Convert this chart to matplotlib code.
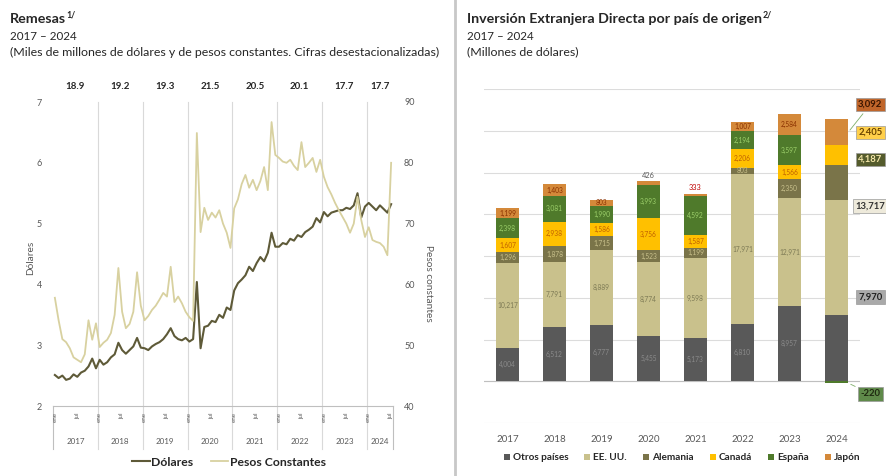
import matplotlib
matplotlib.use('Agg')
import matplotlib.pyplot as plt
from matplotlib.lines import Line2D
from matplotlib.patches import Patch
import numpy as np

plt.rcParams['font.family'] = ['Lato', 'DejaVu Sans']

# ---------------- data: Remesas ----------------
years = ['2017', '2018', '2019', '2020', '2021', '2022', '2023', '2024']
months_per_year = [12, 12, 12, 12, 12, 12, 12, 7]
exchange_rate = ['18.9', '19.2', '19.3', '21.5', '20.5', '20.1', '17.7', '17.7']

dolares = [
    2.51, 2.46, 2.50, 2.43, 2.45, 2.52, 2.48, 2.55, 2.58, 2.65, 2.78, 2.62,
    2.76, 2.68, 2.72, 2.80, 2.85, 3.04, 2.92, 2.86, 2.92, 2.98, 3.12, 2.96,
    2.95, 2.92, 2.98, 3.02, 3.05, 3.10, 3.18, 3.28, 3.15, 3.10, 3.08, 3.12,
    3.06, 3.10, 4.04, 2.95, 3.30, 3.32, 3.40, 3.38, 3.50, 3.45, 3.62, 3.58,
    3.90, 4.02, 4.08, 4.15, 4.29, 4.22, 4.35, 4.45, 4.38, 4.52, 4.85, 4.62,
    4.62, 4.68, 4.66, 4.75, 4.72, 4.81, 4.78, 4.86, 4.90, 4.95, 5.09, 5.02,
    5.19, 5.12, 5.18, 5.20, 5.22, 5.22, 5.26, 5.24, 5.30, 5.50, 5.10, 5.28,
    5.34, 5.28, 5.22, 5.30, 5.24, 5.18, 5.32,
]
pesos = [
    57.8, 54.1, 51.0, 50.5, 49.5, 48.0, 47.6, 47.2, 48.5, 54.1, 50.9, 53.6,
    49.7, 50.4, 50.9, 52.0, 55.0, 62.7, 55.5, 52.8, 53.5, 55.5, 62.0, 56.5,
    54.1, 54.8, 55.8, 56.5, 57.5, 58.6, 58.0, 62.9, 57.1, 58.0, 56.9, 55.5,
    54.6, 54.0, 84.9, 68.6, 72.6, 70.6, 71.8, 71.0, 72.2, 70.0, 68.5, 66.0,
    72.5, 74.0, 76.5, 78.0, 75.9, 77.2, 75.5, 77.0, 79.3, 75.5, 86.7, 81.3,
    80.8, 80.2, 80.0, 80.5, 79.5, 78.8, 83.4, 79.3, 80.0, 80.8, 78.5, 80.5,
    77.7, 76.0, 74.8, 73.4, 72.2, 71.1, 70.0, 68.5, 70.0, 74.4, 70.6, 67.8,
    69.4, 67.3, 67.0, 66.8, 66.2, 64.8, 80.0,
]

# ---------------- data: IED ----------------
ied_years = ['2017', '2018', '2019', '2020', '2021', '2022', '2023', '2024']
otros = [4004, 6512, 6777, 5455, 5173, 6810, 8957, 7970]
eeuu = [10217, 7791, 8889, 8774, 9598, 17971, 12971, 13717]
alemania = [1296, 1878, 1715, 1523, 1199, 803, 2350, 4187]
canada = [1607, 2938, 1586, 3756, 1587, 2206, 1566, 2405]
espana = [2398, 3081, 1990, 3993, 4592, 2194, 3597, -220]
japon = [1199, 1403, 803, 426, 333, 1007, 2584, 3092]
series_names = ['Otros países', 'EE. UU.', 'Alemania', 'Canadá', 'España', 'Japón']

W, H = 887, 476
fig = plt.figure(figsize=(W / 100, H / 100), dpi=100)
fig.patch.set_facecolor('white')


def fy(py):
    return 1 - py / H


TXT = '#262626'
GRAY = '#595959'

# ---------------- Titles ----------------
renderer = fig.canvas.get_renderer()


def title_with_sup(x, y, text, sup):
    t = fig.text(x / W, fy(y), text, fontsize=10.3, fontweight='bold', color=TXT, va='center')
    bb = t.get_window_extent(renderer=renderer)
    fig.text(bb.x1 / W + 0.5 / W, fy(y - 4), sup, fontsize=6.3, fontweight='bold', color=TXT, va='center')


title_with_sup(10, 19, 'Remesas', '1/')
fig.text(10 / W, fy(36), '2017 – 2024', fontsize=8.4, color=TXT, va='center')
fig.text(10 / W, fy(52), '(Miles de millones de dólares y de pesos constantes. Cifras desestacionalizadas)',
         fontsize=8.9, color=TXT, va='center')

title_with_sup(467, 19, 'Inversión Extranjera Directa por país de origen', '2/')
fig.text(467 / W, fy(36), '2017 – 2024', fontsize=8.4, color=TXT, va='center')
fig.text(467 / W, fy(52), '(Millones de dólares)', fontsize=8.9, color=TXT, va='center')

# separator
fig.add_artist(Line2D([455 / W, 455 / W], [0, 1], color='#c8c8c8', lw=2))

# ---------------- Left chart ----------------
ax = fig.add_axes([53 / W, 1 - 406 / H, 340 / W, 304 / H])
n = len(dolares)
x = np.arange(n)
ax.set_xlim(-0.5, n - 0.5)
ax.set_ylim(2, 7)
ax2 = ax.twinx()
ax2.set_ylim(40, 90)

ax.plot(x, dolares, color='#5e5a38', lw=1.5, zorder=3)
ax2.plot(x, pesos, color='#d8d1a0', lw=1.3, zorder=2)

for a in (ax, ax2):
    for s in a.spines.values():
        s.set_visible(False)
ax.spines['bottom'].set_visible(True)
ax.spines['bottom'].set_color('#bfbfbf')

ax.set_yticks([2, 3, 4, 5, 6, 7])
ax.set_yticklabels(['2', '3', '4', '5', '6', '7'])
ax.tick_params(axis='y', length=0, labelsize=6.5, labelcolor=GRAY, pad=8)
ax2.set_yticks([40, 50, 60, 70, 80, 90])
ax2.tick_params(axis='y', length=0, labelsize=6.5, labelcolor=GRAY, pad=8)
ax.set_xticks([])

xt = ax.get_xaxis_transform()
starts = np.concatenate([[0], np.cumsum(months_per_year)[:-1]])
ends = np.cumsum(months_per_year)
for k in range(len(years)):
    s, e = starts[k], ends[k]
    if k > 0:
        ax.plot([s - 0.5, s - 0.5], [-0.14, 1], transform=xt, color='#d9d9d9', lw=0.8, clip_on=False, zorder=1)
    ax.text(s, -0.02, 'ene', transform=xt, rotation=90, fontsize=4.5, color=GRAY, ha='center', va='top')
    if months_per_year[k] > 6:
        ax.text(s + 6, -0.02, 'jul', transform=xt, rotation=90, fontsize=4.5, color=GRAY, ha='center', va='top')
    ax.text((s + e - 1) / 2, -0.118, years[k], transform=xt, fontsize=5.8, color=GRAY, ha='center', va='center')
    ax.text((s + e - 1) / 2, 1.05, exchange_rate[k], transform=xt, fontsize=7, fontweight='bold',
            color=TXT, ha='center', va='center')
for xe in (-0.5, n - 0.5):
    ax.plot([xe, xe], [-0.14, 0], transform=xt, color='#bfbfbf', lw=0.8, clip_on=False)

fig.text(31 / W, fy(258), 'Dólares', rotation=90, fontsize=7.3, color=GRAY, ha='center', va='center')
fig.text(429 / W, fy(283), 'Pesos constantes', rotation=270, fontsize=7.3, color=GRAY, ha='center', va='center')

handles = [Line2D([], [], color='#5e5a38', lw=1.5), Line2D([], [], color='#d8d1a0', lw=1.3)]
fig.legend(handles, ['Dólares', 'Pesos Constantes'], loc='center', bbox_to_anchor=(229 / W, fy(462)),
           ncol=2, frameon=False, prop={'weight': 'bold', 'size': 8.8}, handlelength=1.4,
           handletextpad=0.15, columnspacing=1.4, labelcolor=TXT)

# ---------------- Right chart ----------------
ax3 = fig.add_axes([484 / W, 1 - 423 / H, 376 / W, 334 / H])
ax3.set_xlim(-0.5, 7.5)
ax3.set_ylim(-5000, 35000)
ax3.set_yticks(range(-5000, 35001, 5000))
ax3.set_yticklabels([])
ax3.tick_params(axis='y', length=0)
ax3.yaxis.grid(True, color='#dcdcdc', lw=0.8)
ax3.set_axisbelow(True)
for s in ax3.spines.values():
    s.set_visible(False)
ax3.axhline(0, color='#bfbfbf', lw=0.8, zorder=1)
ax3.set_xticks(range(len(ied_years)))
ax3.set_xticklabels(ied_years)
ax3.tick_params(axis='x', length=0, labelsize=7, labelcolor=GRAY, pad=9)

colors = ['#595959', '#c9c18c', '#7a7449', '#ffc000', '#4f7a2b', '#d4893a']
lab_colors = ['#8a8a8a', '#7d7a55', '#c9c18c', '#c06000', '#9ccf6a', '#8a3000']
data = [otros, eeuu, alemania, canada, espana, japon]
xb = np.arange(len(ied_years))
pos_b = np.zeros(len(xb))
neg_b = np.zeros(len(xb))
for si, vals in enumerate(data):
    vals = np.array(vals, dtype=float)
    bottoms = np.where(vals >= 0, pos_b, neg_b)
    ax3.bar(xb, vals, 0.49, bottom=bottoms, color=colors[si], zorder=2)
    for i in range(len(xb) - 1):
        v = vals[i]
        if abs(v) >= 700:
            ax3.text(xb[i], bottoms[i] + v / 2, f'{int(v):,}', fontsize=4.8, color=lab_colors[si],
                     ha='center', va='center', zorder=3)
        elif si == len(data) - 1:
            ax3.text(xb[i], bottoms[i] + v + 250, f'{int(v):,}', fontsize=5.3,
                     color='#c00000' if i == 4 else GRAY, ha='center', va='bottom', zorder=3)
    pos_b = pos_b + np.where(vals >= 0, vals, 0)
    neg_b = neg_b + np.where(vals < 0, vals, 0)

# callouts for 2024
i = 7
cum = np.cumsum([otros[i], eeuu[i], alemania[i], canada[i], japon[i]])
callouts = [
    ('3,092', cum[4] - japon[i] / 2, 33150, '#c0652a', '#3a1500'),
    ('2,405', cum[3] - canada[i] / 2, 29800, '#ffcf4a', '#6b4500'),
    ('4,187', cum[2] - alemania[i] / 2, 26560, '#545b2c', '#f4e6a8'),
    ('13,717', cum[1] - eeuu[i] / 2, 21000, '#eeeadb', '#333333'),
    ('7,970', cum[0] - otros[i] / 2, 10050, '#a9a9a9', '#1f1f1f'),
    ('-220', espana[i], -1500, '#5f8a4a', '#1f2a10'),
]
for txt, yv, ylab, bg, fg in callouts:
    ax3.annotate(txt, xy=(7 + 0.25, yv), xytext=(7.72, ylab), fontsize=6.8, fontweight='bold', color=fg,
                 ha='center', va='center', annotation_clip=False,
                 bbox=dict(boxstyle='square,pad=0.25', fc=bg, ec='#9a9a9a', lw=0.5),
                 arrowprops=dict(arrowstyle='-', color='#7fae6a', lw=0.6) if txt in ('3,092', '-220') else None)

p_handles = [Patch(facecolor=c) for c in colors]
fig.legend(p_handles, series_names, loc='center', bbox_to_anchor=(682 / W, fy(458)), ncol=6, frameon=False,
           prop={'weight': 'bold', 'size': 7.2}, handlelength=0.6, handleheight=0.6, handletextpad=0.3,
           columnspacing=1.6, labelcolor=TXT)

fig.savefig('out.png', dpi=100, facecolor='white')
